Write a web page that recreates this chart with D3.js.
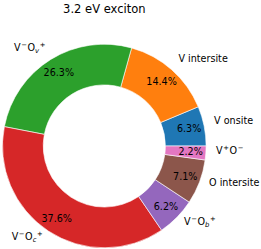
<!DOCTYPE html>
<html>
<head>
<meta charset="utf-8">
<script src="https://cdn.jsdelivr.net/npm/d3@7"></script>
<style>
  body { margin: 0; background: #fff; }
  text { font-family: "DejaVu Sans", sans-serif; fill: #000; }
</style>
</head>
<body>
<div id="chartDiv"></div>
<script>
// data, in the order matplotlib draws it (counterclockwise from 3 o'clock)
var labels = ["V onsite", "V intersite", "V^−O_v^+", "V^−O_c^+", "V^−O_b^+", "O intersite", "V^+O^−"];
var values = [6.3, 14.4, 26.3, 37.6, 6.2, 7.1, 2.2];
var colors = ["#1f77b4", "#ff7f0e", "#2ca02c", "#d62728", "#9467bd", "#8c564b", "#e377c2"];
var title = "3.2 eV exciton";

var W = 261, H = 249;
var cx = 104.3, cy = 146, R = 101.8;

var svg = d3.select("#chartDiv").append("svg")
    .attr("width", W)
    .attr("height", H);

var pie = d3.pie()
    .sort(null)
    .value(function(d) { return d; })
    .startAngle(Math.PI / 2)
    .endAngle(Math.PI / 2 - 2 * Math.PI);

var arc = d3.arc()
    .innerRadius(R * 0.6)
    .outerRadius(R);

var arcs = pie(values);

var g = svg.append("g").attr("transform", "translate(" + cx + "," + cy + ")");

g.selectAll("path").data(arcs).enter()
  .append("path")
    .attr("d", arc)
    .attr("fill", function(d, i) { return colors[i]; })
    .attr("stroke", "#fff")
    .attr("stroke-width", 0.6);

function mid(d) { return (d.startAngle + d.endAngle) / 2; }

// percentages
g.selectAll(".pct").data(arcs).enter()
  .append("text")
    .attr("class", "pct")
    .attr("x", function(d) { return R * 0.85 * Math.sin(mid(d)); })
    .attr("y", function(d) { return -R * 0.85 * Math.cos(mid(d)); })
    .attr("dy", "0.36em")
    .attr("text-anchor", "middle")
    .style("font-size", "9.6px")
    .text(function(d) { return d.value.toFixed(1) + "%"; });

// ^x = superscript, _x = italic subscript; baseline tracked by hand
function drawLabel(sel, str) {
  var off = 0;
  for (var i = 0; i < str.length; i++) {
    var c = str[i];
    if (c === "^") {
      var ch = str[++i];
      sel.append("tspan").text(ch).style("font-size", "6.8px")
        .attr("dx", 0.6)
        .attr("dy", -3.8 - off);
      off = -3.8;
    } else if (c === "_") {
      var ch2 = str[++i];
      sel.append("tspan").text(ch2).style("font-size", "6.8px").style("font-style", "italic")
        .attr("dy", 2.0 - off);
      off = 2.0;
    } else {
      sel.append("tspan").text(c).attr("dy", -off).attr("dx", off < 0 ? 0.6 : 0);
      off = 0;
    }
  }
}

g.selectAll(".lab").data(arcs).enter()
  .append("text")
    .attr("class", "lab")
    .attr("x", function(d) { return R * 1.1 * Math.sin(mid(d)); })
    .attr("y", function(d) { return -R * 1.1 * Math.cos(mid(d)); })
    .attr("dy", "0.36em")
    .attr("text-anchor", function(d) { return Math.sin(mid(d)) > 0 ? "start" : "end"; })
    .style("font-size", "9.6px")
    .each(function(d, i) { drawLabel(d3.select(this), labels[i]); });

svg.append("text")
    .attr("x", cx)
    .attr("y", 13)
    .attr("text-anchor", "middle")
    .style("font-size", "11.5px")
    .text(title);
</script>
</body>
</html>
